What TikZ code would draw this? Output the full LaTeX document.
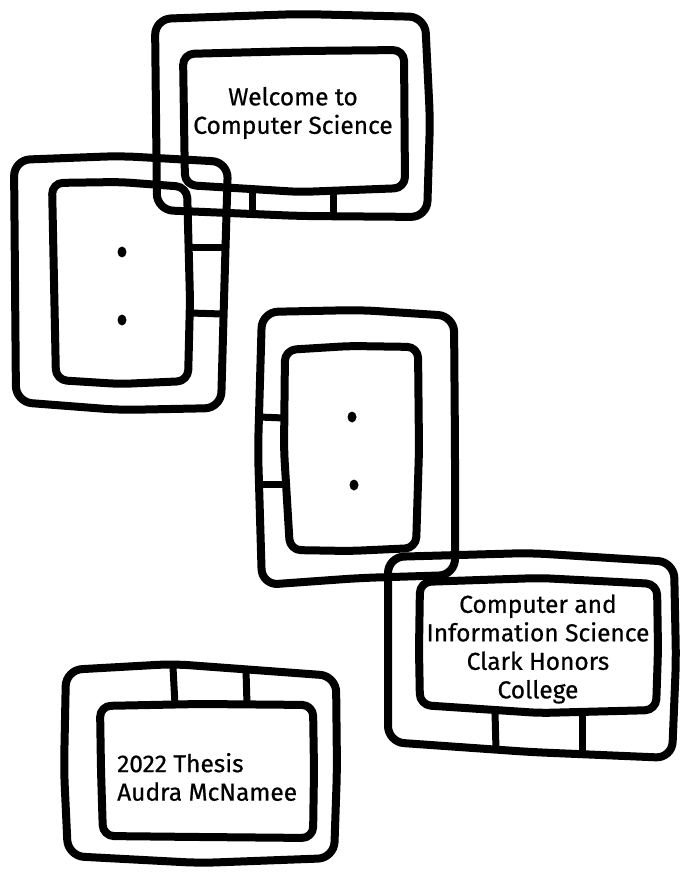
\documentclass[tikz,border=0pt]{standalone}
\usepackage{fontspec}
\usetikzlibrary{shapes.geometric}
\setmainfont{Fira Sans}[FakeBold=0.6]
\begin{document}
\begin{tikzpicture}[x=1pt,y=-1pt,
  frame/.style={draw=black,line width=8pt,rounded corners=16pt,line join=round,line cap=round},
  inner/.style={draw=black,line width=8pt,rounded corners=11pt,line join=round,line cap=round},
  bar/.style={draw=black,line width=7pt},
  lbl/.style={font=\fontsize{24.5}{28.5}\selectfont,align=center,inner sep=0pt},
  dot/.style={fill=black,ellipse,inner sep=0pt,minimum width=9pt,minimum height=11pt}]
\useasboundingbox (0,0) rectangle (679,874);
% ---- box 1 (top)
\draw[frame] (155,19) -- (300,14) -- (425,17) -- (430,120) -- (427,217) -- (300,216) -- (157,210) -- cycle;
\draw[inner] (183,54) -- (300,51) -- (404,50) -- (405,188) -- (300,192) -- (185,185) -- cycle;
\draw[bar] (252,190) -- (252,214);
\draw[bar] (333,192) -- (333,216);
\node[lbl] (t1) at (293,113) {Welcome to\\Computer Science};
% ---- box 2 (left)
\draw[frame] (14,160) -- (120,156) -- (228,162) -- (224,300) -- (221,408) -- (120,410) -- (16,402) -- cycle;
\draw[inner] (52,183) -- (120,182) -- (187,187) -- (190,300) -- (188,381) -- (120,384) -- (56,380) -- cycle;
\draw[bar] (190,248) -- (222,248);
\draw[bar] (190,313) -- (222,314);
\node[dot] (d1) at (122,252) {};
\node[dot] (d2) at (122,320) {};
% ---- box 3 (middle)
\draw[frame] (262,312) -- (360,310) -- (454,316) -- (455,450) -- (455,575) -- (360,578) -- (262,585) -- (258,450) -- cycle;
\draw[inner] (285,350) -- (350,346) -- (418,347) -- (419,450) -- (416,548) -- (350,551) -- (290,550) -- (284,450) -- cycle;
\draw[bar] (259,417) -- (284,418);
\draw[bar] (259,484) -- (285,484);
\node[dot] (d3) at (352,417) {};
\node[dot] (d4) at (354,485) {};
% ---- box 4 (bottom right)
\draw[frame] (388,557) -- (530,553) -- (674,562) -- (676,660) -- (672,758) -- (530,752) -- (388,742) -- cycle;
\draw[inner] (420,582) -- (540,578) -- (657,584) -- (658,650) -- (656,710) -- (540,713) -- (420,705) -- (419,650) -- cycle;
\draw[bar] (495,712) -- (496,750);
\draw[bar] (582,714) -- (582,752);
\node[lbl] (t4) at (538,649) {Computer and\\Information Science\\Clark Honors\\College};
% ---- box 5 (bottom left)
\draw[frame] (66,670) -- (173,664) -- (336,676) -- (337,770) -- (334,858) -- (200,863) -- (68,856) -- (64,770) -- cycle;
\draw[inner] (100,706) -- (200,704) -- (313,705) -- (314,770) -- (313,838) -- (200,837) -- (103,836) -- (101,770) -- cycle;
\draw[bar] (173,667) -- (175,705);
\draw[bar] (246,670) -- (247,705);
\node[lbl,align=left,anchor=west] (t5) at (117,777) {2022 Thesis\\Audra McNamee};
\end{tikzpicture}
\end{document}
